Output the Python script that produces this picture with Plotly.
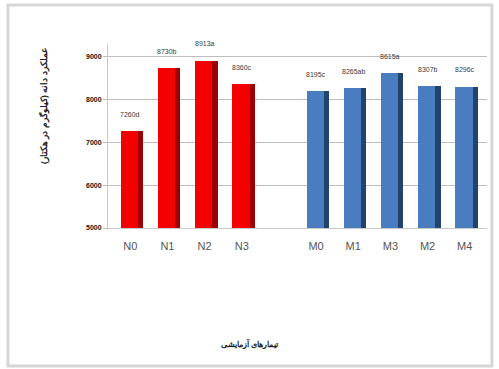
import plotly.graph_objects as go

# Data
n_labels = ["N0", "N1", "N2", "N3"]
n_values = [7260, 8730, 8913, 8360]
n_text = ["7260d", "8730b", "8913a", "8360c"]
m_labels = ["M0", "M1", "M3", "M2", "M4"]
m_values = [8195, 8265, 8615, 8307, 8296]
m_text = ["8195c", "8265ab", "8615a", "8307b", "8296c"]
y_ticks = [5000, 6000, 7000, 8000, 9000]
y_title = "عملکرد دانه (کیلوگرم در هکتار)"
x_title = "تیمارهای آزمایشی"

n_x = list(range(len(n_labels)))
m_x = [len(n_labels) + 1 + i for i in range(len(m_labels))]

fig = go.Figure()

def add_group(xs, vals, face, side):
    # darker "side" of a 3D column
    fig.add_trace(go.Bar(x=xs, y=vals, width=0.6, offset=-0.25,
                         marker=dict(color=side, line=dict(width=0)),
                         showlegend=False, hoverinfo="skip"))
    fig.add_trace(go.Bar(x=xs, y=vals, width=0.46, offset=-0.25,
                         marker=dict(color=face, line=dict(width=0)),
                         showlegend=False))

add_group(n_x, n_values, "#f50000", "#9a0000")
add_group(m_x, m_values, "#4a7cc0", "#22436f")

annotations = []
for xs, vals, txt in ((n_x, n_values, n_text), (m_x, m_values, m_text)):
    for x, v, t in zip(xs, vals, txt):
        annotations.append(dict(x=x, y=v, text=t, showarrow=False, yshift=17,
                                font=dict(size=7, color="#3a3a3a", family="Liberation Sans")))

annotations.append(dict(x=-0.193, y=0.66, xref="paper", yref="paper", text="<b>" + y_title + "</b>",
                        textangle=-90, showarrow=False,
                        font=dict(size=9, color="#222222", family="Noto Sans")))
annotations.append(dict(x=0.375, y=-0.674, xref="paper", yref="paper", text="<b>" + x_title + "</b>",
                        showarrow=False, font=dict(size=8, color="#222222", family="Noto Sans")))

fig.update_layout(
    width=499, height=369,
    margin=dict(l=108, r=12, t=44, b=141),
    paper_bgcolor="white", plot_bgcolor="white",
    barmode="overlay", bargap=0,
    annotations=annotations,
    xaxis=dict(range=[-0.6, 9.6], tickvals=n_x + m_x, ticktext=n_labels + m_labels,
               showgrid=False, zeroline=False, showline=True, linecolor="#c8c8c8",
               ticklabelstandoff=8,
               tickfont=dict(size=11, color="#555555", family="Liberation Sans")),
    yaxis=dict(range=[5000, 9300], tickvals=y_ticks,
               ticktext=[str(t) for t in y_ticks],
               showgrid=True, gridcolor="#bdbdbd", gridwidth=1, zeroline=False,
               showline=True, linecolor="#c8c8c8", ticks="outside", ticklen=4, tickcolor="#bbbbbb",
               tickfont=dict(size=7, color="#111111", family="Liberation Sans", weight="bold")),
    shapes=[
        dict(type="rect", xref="paper", yref="paper", x0=-0.264, x1=1.013, y0=-0.75, y1=1.212,
             line=dict(color="#d6d6d6", width=3), fillcolor="rgba(0,0,0,0)"),
    ],
)

fig.write_html("out.html")
